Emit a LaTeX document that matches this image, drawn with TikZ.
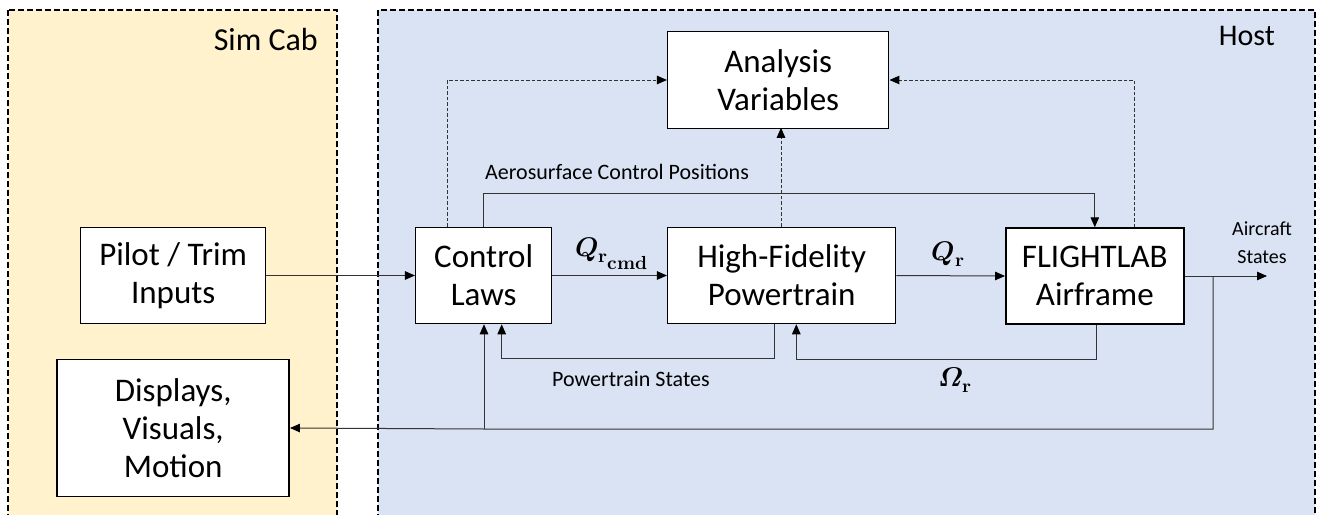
\documentclass[tikz,border=0pt]{standalone}
\usepackage{fontspec}
\usepackage{unicode-math}
\setmainfont{Carlito}
\setmathfont{Latin Modern Math}
\usetikzlibrary{arrows.meta}

\definecolor{cabfill}{HTML}{FFF2CC}
\definecolor{hostfill}{HTML}{DAE3F3}

\begin{document}
\begin{tikzpicture}[x=1pt,y=-1pt,
  blk/.style={draw=black, line width=1.5pt, fill=white, align=center,
    inner sep=0pt, font=\fontsize{33}{38}\selectfont},
  link/.style={draw=black!80, line width=1pt},
  tip/.style={-{Triangle[length=10pt,width=8.5pt,color=black]}},
  probe/.style={link, dash pattern=on 3.5pt off 2pt},
  frame/.style={draw=black, line width=1.8pt, dash pattern=on 6pt off 3pt},
  lbl/.style={inner sep=0pt, font=\fontsize{22}{26}\selectfont},
  small/.style={inner sep=0pt, anchor=base, font=\fontsize{20}{24}\selectfont},
  sym/.style={inner sep=0pt, font=\fontsize{27}{30}\selectfont}]

\clip (0,0) rectangle (1317,514);
\fill[white] (0,0) rectangle (1317,514);

% simulator cab and host regions
\path[frame, fill=cabfill] (8.3,10) rectangle (336.7,540);
\path[frame, fill=hostfill] (378.3,10) rectangle (1315,540);
\node[inner sep=0pt, anchor=base east, font=\fontsize{32}{36}\selectfont] (cabtitle) at (318,50) {Sim Cab};
\node[inner sep=0pt, anchor=base east, font=\fontsize{30}{34}\selectfont] (hosttitle) at (1275,45) {Host};

% blocks
\node[blk, minimum width=185pt, minimum height=96pt] (pilot) at (173.2,275.5) {Pilot / Trim\\Inputs};
\node[blk, minimum width=232pt, minimum height=137pt] (disp) at (173.2,428) {Displays,\\Visuals,\\Motion};
\node[blk, minimum width=136pt, minimum height=96pt] (ctrl) at (483.7,275.5) {Control\\Laws};
\node[blk, minimum width=228pt, minimum height=96pt] (hfp) at (781.7,275.5) {High-Fidelity\\Powertrain};
\node[blk, minimum width=178pt, minimum height=96pt] (fl) at (1094.8,276) {FLIGHTLAB\\Airframe};
\node[blk, minimum width=221pt, minimum height=96.6pt] (av) at (778.2,80) {Analysis\\Variables};

% forward path
\draw[link, tip] (pilot.east) -- (ctrl.west);
\draw[link, tip] (ctrl.east) -- (hfp.west);
\draw[link, tip] (hfp.east) -- (fl.west);
\coordinate (out) at (1267,276);
\coordinate (jn) at (1213,276);
\draw[link, tip] (fl.east) -- (out);

% state feedback to control laws and cab
\coordinate (fb) at (484,429);
\draw[link, tip] (jn) |- (fb) -- (disp.east);
\draw[link, tip] (fb) -- (fb |- ctrl.south);

% powertrain states and rotor speed feedback
\draw[link, tip] ([xshift=-7.7pt]hfp.south) -- ++(0,34.4) -| ([xshift=18pt]ctrl.south);
\draw[link, tip] ([xshift=1.2pt]fl.south) -- ++(0,35) -| ([xshift=14.6pt]hfp.south);

% aerosurface commands
\draw[link, tip] (ctrl.north) -- ++(0,-33.4) -| (fl.north);

% logged variables
\draw[probe, tip] ([xshift=-36.4pt]ctrl.north) |- (av.west);
\draw[probe, tip] ([xshift=-0.7pt]hfp.north) -- ++(0,-99);
\draw[probe, tip] ([xshift=39.2pt]fl.north) |- (av.east);

% labels
\node[lbl, anchor=base west] (aerolbl) at (485,179) {Aerosurface Control Positions};
\node[lbl, anchor=base west] (ptlbl) at (552,386.7) {Powertrain States};
\node[small] (aclbla) at (1262,235) {Aircraft};
\node[small] (aclblb) at (1262,263) {States};
\node[sym, anchor=base] (qcmd) at (612,256) {$\symbfit{Q}_{\scriptstyle\symbf{r}_{\scriptstyle\symbf{cmd}}}$};
\node[sym, anchor=base] (qr) at (948,260) {$\symbfit{Q}_{\symbf{r}}$};
\node[sym, anchor=base] (omr) at (955,386) {$\symbfit{\Omega}_{\symbf{r}}$};
\end{tikzpicture}
\end{document}
